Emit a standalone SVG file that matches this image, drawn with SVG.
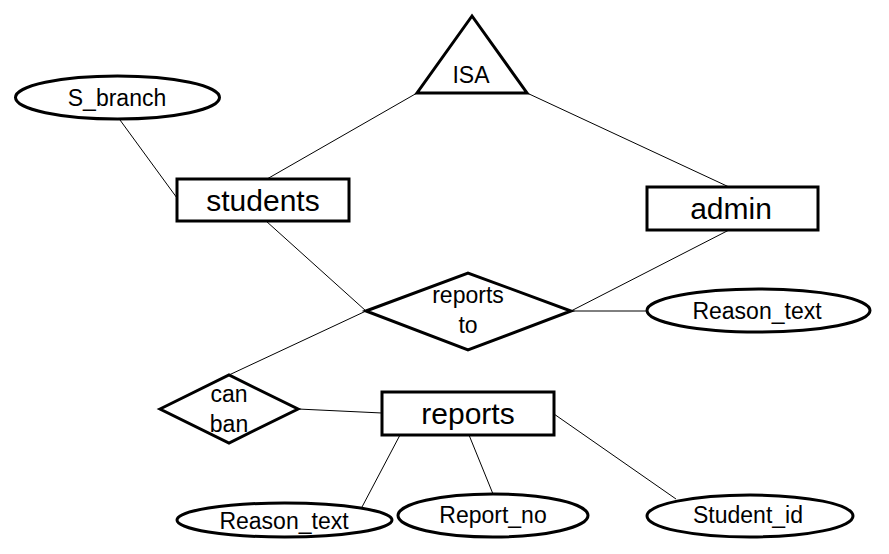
<svg xmlns="http://www.w3.org/2000/svg" width="889" height="554" viewBox="0 0 889 554">
<style>
.shape{fill:#fff;stroke:#000;stroke-width:3}
.conn line{stroke:#000;stroke-width:1}
text{font-family:"Liberation Sans",Arial,sans-serif;fill:#000;text-anchor:middle}
.ent{font-size:30px}
.att{font-size:23px}
.rel{font-size:23px}
</style>
<rect width="889" height="554" fill="#fff"/>
<g id="connectors" class="conn">
<line x1="120" y1="120" x2="177" y2="198"/>
<line x1="417" y1="93" x2="267" y2="179"/>
<line x1="527" y1="93" x2="729" y2="187"/>
<line x1="729" y1="230" x2="571" y2="311"/>
<line x1="266" y1="221" x2="366" y2="311"/>
<line x1="366" y1="311" x2="229" y2="375"/>
<line x1="571" y1="311" x2="647" y2="311"/>
<line x1="298" y1="409" x2="382" y2="413"/>
<line x1="400" y1="435" x2="362" y2="507"/>
<line x1="469" y1="435" x2="493" y2="494"/>
<line x1="554" y1="414" x2="676" y2="499"/>
</g>
<g id="S_branch"><ellipse class="shape" cx="117.5" cy="97.5" rx="102" ry="21.5"/><text class="att" x="117" y="106">S_branch</text></g>
<g id="ISA"><polygon class="shape" points="472,16 417,93 527,93"/><text class="rel" x="471" y="83">ISA</text></g>
<g id="students"><rect class="shape" x="177" y="179" width="172" height="42"/><text class="ent" x="263" y="211">students</text></g>
<g id="admin"><rect class="shape" x="647" y="187" width="171" height="43"/><text class="ent" x="731" y="219">admin</text></g>
<g id="reports_to"><polygon class="shape" points="366,311 468,273 571,311 468,350"/><text class="rel" x="468" y="303">reports</text><text class="rel" x="468" y="333">to</text></g>
<g id="Reason_text_1"><ellipse class="shape" cx="758.5" cy="310.5" rx="111.5" ry="21.5"/><text class="att" x="757" y="319">Reason_text</text></g>
<g id="can_ban"><polygon class="shape" points="160,409 229,375 298,409 229,443"/><text class="rel" x="229" y="402">can</text><text class="rel" x="229" y="432">ban</text></g>
<g id="reports"><rect class="shape" x="382" y="392" width="172" height="43"/><text class="ent" x="468" y="424">reports</text></g>
<g id="Reason_text_2"><ellipse class="shape" cx="284.5" cy="520" rx="107.5" ry="17"/><text class="att" x="284" y="529">Reason_text</text></g>
<g id="Report_no"><ellipse class="shape" cx="493" cy="515.5" rx="95" ry="21.5"/><text class="att" x="493" y="523">Report_no</text></g>
<g id="Student_id"><ellipse class="shape" cx="750" cy="516" rx="103" ry="21"/><text class="att" x="748" y="523">Student_id</text></g>
</svg>
